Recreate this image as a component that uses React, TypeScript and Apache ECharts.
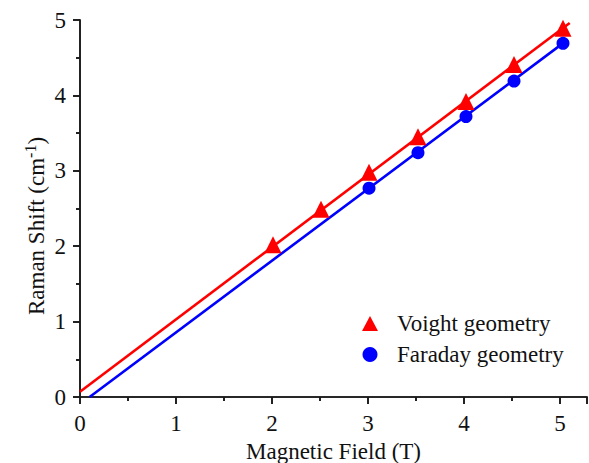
import React, { useEffect, useRef } from "react";
import * as echarts from "echarts";

const voightField = [2.01, 2.51, 3.01, 3.52, 4.02, 4.52, 5.03];
const voightShift = [2.02, 2.49, 2.98, 3.45, 3.92, 4.41, 4.89];
const faradayField = [3.01, 3.52, 4.02, 4.52, 5.03];
const faradayShift = [2.77, 3.24, 3.72, 4.19, 4.69];
const voightFitX = [0, 5.1];
const voightFitY = [0.07, 4.96];
const faradayFitX = [0.1, 5.08];
const faradayFitY = [0, 4.74];
const xTicks = [0, 1, 2, 3, 4, 5];
const yTicks = [0, 1, 2, 3, 4, 5];

const FONT = '"Liberation Serif", "Times New Roman", serif';
const FS = 23;
const RED = "#ff0000";
const BLUE = "#0000ff";
const AX = "#1a1a1a";

const zip = (a: number[], b: number[]) => a.map((v, i) => [v, b[i]]);

export default function App() {
  const ref = useRef<HTMLDivElement>(null);
  useEffect(() => {
    if (!ref.current) return;
    const chart = echarts.init(ref.current, undefined, { renderer: "svg" });
    const axisLine = { show: true, lineStyle: { color: AX, width: 1.6 } };
    const tickStyle = { color: AX, width: 1.6 };
    chart.setOption({
      animation: false,
      backgroundColor: "#fff",
      grid: { left: 80, right: 2, top: 20, bottom: 66, containLabel: false, outerBoundsMode: "none" },
      xAxis: [
        {
          type: "value",
          min: 0,
          max: 5.28,
          interval: 1,
          position: "bottom",
          name: "Magnetic Field (T)",
          nameLocation: "middle",
          nameGap: 40,
          nameTextStyle: { fontFamily: FONT, fontSize: FS, color: "#111" },
          axisLine,
          axisTick: { show: true, inside: false, length: 7, lineStyle: tickStyle },
          minorTick: { show: true, splitNumber: 2, length: 4, lineStyle: tickStyle },
          splitLine: { show: false },
          axisLabel: {
            fontFamily: FONT,
            fontSize: FS,
            color: "#111",
            margin: 15,
            showMaxLabel: false,
            formatter: (v: number) => (xTicks.includes(v) ? String(v) : ""),
          },
        },
        {
          type: "value",
          min: 0,
          max: 5.28,
          interval: 1,
          position: "top",
          axisLine,
          axisTick: { show: true, inside: true, length: 7, lineStyle: tickStyle },
          minorTick: { show: true, splitNumber: 2, length: 4, lineStyle: tickStyle },
          splitLine: { show: false },
          axisLabel: { show: false },
        },
      ],
      yAxis: [
        {
          type: "value",
          min: 0,
          max: 5,
          interval: 1,
          position: "left",
          axisLine,
          axisTick: { show: true, inside: false, length: 7, lineStyle: tickStyle },
          minorTick: { show: true, splitNumber: 2, length: 4, lineStyle: tickStyle },
          splitLine: { show: false },
          axisLabel: {
            fontFamily: FONT,
            fontSize: FS,
            color: "#111",
            margin: 14,
            formatter: (v: number) => (yTicks.includes(v) ? String(v) : ""),
          },
        },
        {
          type: "value",
          min: 0,
          max: 5,
          interval: 1,
          position: "right",
          axisLine,
          axisTick: { show: true, inside: true, length: 7, lineStyle: tickStyle },
          minorTick: { show: true, splitNumber: 2, length: 4, lineStyle: tickStyle },
          splitLine: { show: false },
          axisLabel: { show: false },
        },
      ],
      graphic: [
        {
          type: "text",
          x: 36,
          y: 226,
          rotation: Math.PI / 2,
          style: {
            text: "Raman Shift (cm{sup|-1})",
            font: `${FS}px ${FONT}`,
            fill: "#111",
            align: "center",
            verticalAlign: "middle",
            rich: {
              sup: { fontFamily: FONT, fontSize: 16, verticalAlign: "top", padding: [0, 0, 12, 0], fill: "#111" },
            },
          },
        },
      ],
      legend: {
        orient: "vertical",
        left: 357,
        top: 307,
        itemWidth: 16,
        itemHeight: 15,
        itemGap: 8,
        textStyle: { fontFamily: FONT, fontSize: FS, color: "#111", padding: [0, 0, 0, 14] },
        data: [
          { name: "Voight geometry", icon: "triangle" },
          { name: "Faraday geometry", icon: "circle" },
        ],
      },
      series: [
        {
          name: "Voight fit",
          type: "line",
          data: zip(voightFitX, voightFitY),
          symbol: "none",
          lineStyle: { color: RED, width: 2.6 },
          z: 2,
        },
        {
          name: "Faraday fit",
          type: "line",
          data: zip(faradayFitX, faradayFitY),
          symbol: "none",
          lineStyle: { color: BLUE, width: 2.6 },
          z: 2,
        },
        {
          name: "Voight geometry",
          type: "scatter",
          data: zip(voightField, voightShift),
          symbol: "triangle",
          symbolSize: 17,
          itemStyle: { color: RED, opacity: 1 },
          z: 3,
        },
        {
          name: "Faraday geometry",
          type: "scatter",
          data: zip(faradayField, faradayShift),
          symbol: "circle",
          symbolSize: 13,
          itemStyle: { color: BLUE, opacity: 1 },
          z: 3,
        },
      ],
    });
    return () => chart.dispose();
  }, []);
  return <div ref={ref} style={{ width: 589, height: 463, position: "absolute", left: 0, top: 0 }} />;
}
